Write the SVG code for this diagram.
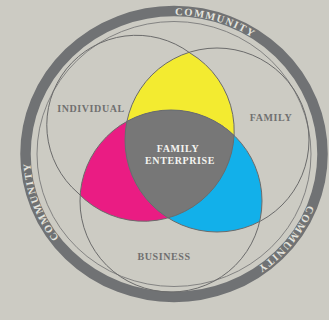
<svg xmlns="http://www.w3.org/2000/svg" width="329" height="320" viewBox="0 0 329 320">
  <style>
    .outline { fill: none; stroke: #6b6b6b; stroke-width: 1; }
    .thin { fill: none; stroke: #7a7a7a; stroke-width: 0.9; }
    .label { font-family: "Liberation Serif", "Times New Roman", serif; font-weight: bold; font-size: 10px; fill: #707070; text-anchor: middle; letter-spacing: 0.6px; }
    .core { fill: #f4f4f0; font-size: 10px; letter-spacing: 0.6px; }
    .ring-text { font-family: "Liberation Serif", "Times New Roman", serif; font-weight: bold; font-size: 10.5px; fill: #e4e4de; letter-spacing: 1.4px; }
  </style>
  <defs>
    <!-- individual outline: two arcs meeting at the yellow tip and the magenta corner -->
    <path id="individual-shape" d="M190,53 A90.5,90.5 0 1 1 78,193 A89.7,89.7 0 0 1 190,53 Z"/>
    <clipPath id="clip-individual"><use href="#individual-shape"/></clipPath>
    <clipPath id="clip-family"><circle cx="217" cy="140" r="92"/></clipPath>
    <!-- baselines for the curved ring labels, all running clockwise -->
    <path id="arc-top" d="M124.8,23.4 A144,139 0 0 1 290.5,72.3"/>
    <path id="arc-left" d="M91.4,267.9 A144,139 0 0 1 34.9,118"/>
    <path id="arc-right" d="M317.8,161.3 A144,139 0 0 1 216.1,286.9"/>
  </defs>

  <rect width="329" height="320" fill="#cccbc3"/>

  <!-- community ring -->
  <g id="community">
    <ellipse cx="174" cy="154" rx="148.5" ry="143" fill="none" stroke="#707274" stroke-width="10.5"/>
    <ellipse class="thin" cx="174" cy="154" rx="137" ry="132.5"/>
    <text class="ring-text"><textPath href="#arc-top" startOffset="50%" text-anchor="middle">COMMUNITY</textPath></text>
    <text class="ring-text"><textPath href="#arc-left" startOffset="50%" text-anchor="middle">COMMUNITY</textPath></text>
    <text class="ring-text"><textPath href="#arc-right" startOffset="50%" text-anchor="middle">COMMUNITY</textPath></text>
  </g>

  <!-- overlap regions -->
  <g id="overlaps">
    <circle cx="217" cy="140" r="92" fill="#f3eb30" clip-path="url(#clip-individual)"/>
    <circle cx="171" cy="201" r="91" fill="#ea1c83" clip-path="url(#clip-individual)"/>
    <circle cx="171" cy="201" r="91" fill="#12b0ea" clip-path="url(#clip-family)"/>
    <g clip-path="url(#clip-individual)">
      <circle cx="171" cy="201" r="91" fill="#777777" clip-path="url(#clip-family)"/>
    </g>
  </g>

  <g id="individual">
    <use class="outline" href="#individual-shape"/>
    <text class="label" x="91" y="112">INDIVIDUAL</text>
  </g>
  <g id="family">
    <circle class="outline" cx="217" cy="140" r="92"/>
    <text class="label" x="271" y="121">FAMILY</text>
  </g>
  <g id="business">
    <circle class="outline" cx="171" cy="201" r="91"/>
    <text class="label" x="164" y="259.5">BUSINESS</text>
  </g>
  <g id="family-enterprise">
    <text class="label core" x="178" y="151.5">FAMILY</text>
    <text class="label core" x="180" y="164">ENTERPRISE</text>
  </g>
</svg>
